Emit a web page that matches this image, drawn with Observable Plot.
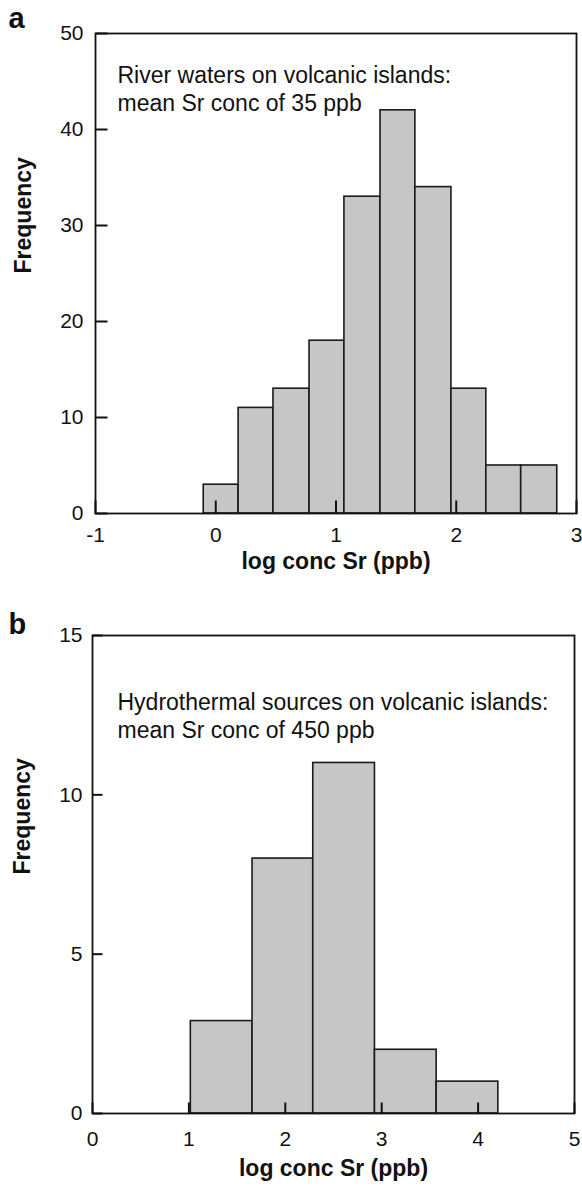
<!DOCTYPE html>
<html><head><meta charset="utf-8">
<script src="https://cdn.jsdelivr.net/npm/d3@7"></script>
<script src="https://cdn.jsdelivr.net/npm/@observablehq/plot@0.6"></script>
<style>body{margin:0;background:#fff} svg{display:block}</style>
</head><body><div id="chart"></div>
<script>
// ---- data ----
const xLabel = "log conc Sr (ppb)";
const yLabel = "Frequency";

const letterA = "a";
const noteA = "River waters on volcanic islands:\nmean Sr conc of 35 ppb";
const edgesA = [-0.1, 0.19, 0.48, 0.78, 1.07, 1.37, 1.66, 1.96, 2.25, 2.54, 2.84];
const countsA = [3, 11, 13, 18, 33, 42, 34, 13, 5, 5];
const xTicksA = [-1, 0, 1, 2, 3];
const yTicksA = [0, 10, 20, 30, 40, 50];

const letterB = "b";
const noteB = "Hydrothermal sources on volcanic islands:\nmean Sr conc of 450 ppb";
const edgesB = [1.02, 1.66, 2.29, 2.93, 3.57, 4.21];
const countsB = [2.9, 8, 11, 2, 1];
const xTicksB = [0, 1, 2, 3, 4, 5];
const yTicksB = [0, 5, 10, 15];

// ---- drawing ----
const FONT = "'Liberation Sans', Arial, Helvetica, sans-serif";
const INK = "#111";
const W = 582;

function toBins(edges, counts) {
  return counts.map((c, i) => ({x1: edges[i], x2: edges[i + 1], y: c}));
}

function panel(o) {
  const x0 = o.xTicks[0], x1 = o.xTicks[o.xTicks.length - 1];
  const y0 = o.yTicks[0], y1 = o.yTicks[o.yTicks.length - 1];
  const fw = W - o.ml - o.mr, fh = o.height - o.mt - o.mb;
  // inward tick length (pixels) expressed in each scale's units
  const dxTick = (x1 - x0) * o.yTick / fw;
  const dyTick = (y1 - y0) * o.xTick / fh;
  const yTickRows = o.yTicks.map(v => ({v, a: x0, b: x0 + dxTick}));
  const xTickRows = o.xTicks.map(v => ({v, a: y0, b: y0 + dyTick}));
  return Plot.plot({
    width: W,
    height: o.height,
    marginTop: o.mt, marginBottom: o.mb, marginLeft: o.ml, marginRight: o.mr,
    style: {fontFamily: FONT, fontSize: "20px", color: INK, background: "#fff"},
    x: {domain: [x0, x1], axis: null},
    y: {domain: [y0, y1], axis: null},
    marks: [
      Plot.rectY(toBins(o.edges, o.counts), {x1: "x1", x2: "x2", y: "y", fill: "#c6c6c6", stroke: "#1a1a1a", strokeWidth: 1.6}),
      Plot.frame({stroke: INK, strokeWidth: 1.8}),
      // inward tick marks
      Plot.link(yTickRows, {x1: "a", x2: "b", y1: "v", y2: "v", stroke: INK, strokeWidth: 2}),
      Plot.link(xTickRows, {x1: "v", x2: "v", y1: "a", y2: "b", stroke: INK, strokeWidth: 2}),
      // tick labels
      Plot.text(o.yTicks, {x: () => x0, y: d => d, text: d => String(d), textAnchor: "end", dx: -o.yGap, fontSize: o.tickFont, fill: INK}),
      Plot.text(o.xTicks, {x: d => d, y: () => y0, text: d => String(d), lineAnchor: "top", dy: o.xGap, fontSize: o.tickFont, fill: INK}),
      Plot.text([o.note], {frameAnchor: "top-left", textAnchor: "start", lineAnchor: "top", dx: o.noteDx, dy: o.noteDy, fontSize: 23, lineHeight: 1.22, fill: INK}),
      Plot.text([xLabel], {frameAnchor: "bottom", lineAnchor: "middle", dy: o.xLabDy, fontSize: 23, fontWeight: "bold", fill: INK}),
      Plot.text([yLabel], {frameAnchor: "left", rotate: -90, dx: o.yLabDx, fontSize: 23, fontWeight: "bold", fill: INK}),
      Plot.text([o.letter], {frameAnchor: "top-left", textAnchor: "start", lineAnchor: "middle", dx: o.letDx, dy: o.letDy, fontSize: 29, fontWeight: "bold", fill: INK})
    ]
  });
}

const root = document.getElementById("chart");
root.append(panel({
  height: 600, mt: 33, mb: 87, ml: 95, mr: 6,
  edges: edgesA, counts: countsA, xTicks: xTicksA, yTicks: yTicksA,
  note: noteA, letter: letterA, tickFont: 21,
  yTick: 12, yGap: 12, xTick: 13, xGap: 14,
  noteDx: 22, noteDy: 30, xLabDy: 48, yLabDx: -72, letDx: -87, letDy: -15
}));
root.append(panel({
  height: 587, mt: 35, mb: 74, ml: 92, mr: 8,
  edges: edgesB, counts: countsB, xTicks: xTicksB, yTicks: yTicksB,
  note: noteB, letter: letterB, tickFont: 21,
  yTick: 10, yGap: 10, xTick: 11, xGap: 18,
  noteDx: 25, noteDy: 55, xLabDy: 55, yLabDx: -70, letDx: -84, letDy: -11
}));
</script></body></html>
